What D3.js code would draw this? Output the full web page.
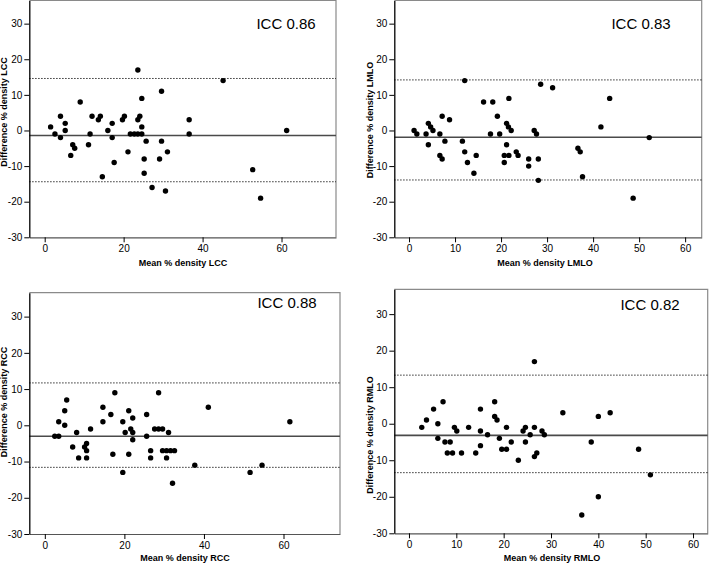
<!DOCTYPE html>
<html><head><meta charset="utf-8">
<script src="https://cdn.jsdelivr.net/npm/d3@7"></script>
<style>
body{margin:0;background:#fff;}
svg{display:block;}
.tick text{font-family:"Liberation Sans Narrow","Arial Narrow","Liberation Sans",Arial,sans-serif;font-size:10px;fill:#000;}
.atitle{font-family:"Liberation Sans",Arial,sans-serif;font-size:9px;font-weight:bold;fill:#000;}
.icc{font-family:"Liberation Sans",Arial,sans-serif;font-size:15px;fill:#000;}
</style></head>
<body><svg id="c" width="709" height="564"></svg>
<script>
// ---- data ----
const lccMean = [1.5,2.6,4,4,5.2,5.2,6.6,7.1,7.6,9,11.1,11.5,12,13.6,14.1,14.6,16,17.1,17.1,17.6,19.7,20.2,21.1,21.7,22.7,23.6,23.6,24.1,23.6,24.6,24.6,24.6,25.2,25.2,25.7,27.2,29.1,29.6,29.6,30.6,31.1,36.6,36.6,45.2,52.7,54.7,61.3];
const lccDiff = [1,-1,4,-2,2,0,-7,-4,-5,8,-4,-1,4,3,4,-13,0,2,-2,-9,3,4,-6,-1,-1,17,3,4,-1,1,9,-1,-8,-12,-3,-16,-8,11,-3,-17,-6,3,-1,14,-11,-19,0];
const lmloMean = [1.1,1.7,3.7,4.2,4.2,4.7,5.2,6.7,6.7,7.2,7.2,7.8,8.8,11.6,12.1,12.1,12.7,14.1,14.6,16.2,18.2,17.7,19.2,19.7,20.7,20.7,21.2,21.2,21.7,21.6,21.7,22.2,23.3,23.7,26,26,27.2,27.7,28.1,28.1,28.6,31.2,36.7,37.2,37.7,41.7,43.6,48.7,52.2];
const lmloDiff = [0,-1,-1,2,-4,1,0,-1,-7,4,-8,-3,3,-3,14,-6,-9,-12,-7,8,8,-1,4,-1,-9,-7,2,-4,9,1,-7,0,-6,-7,-8,-10,0,-1,-8,-14,13,12,-5,-6,-13,1,9,-19,-2];
const rccMean = [2.5,3.5,3.5,5,5,5.5,7,8,8.5,10,10.5,10.5,10.5,11.5,14.6,14.6,16.6,17.1,17.6,19.6,19.6,20.2,21.1,21.1,21.6,22.1,22.1,22.1,25.6,25.6,26.6,26.6,27.6,28.6,28.6,29.6,29.6,30.6,30.6,31.1,31.6,32.6,32.1,37.7,41.1,51.6,54.6,61.6];
const rccDiff = [-3,-3,1,0,4,7,-6,-2,-9,-6,-5,-7,-9,-1,5,1,3,-8,9,1,-13,-2,4,-8,-1,2,-2,-4,3,-3,-7,-9,-1,9,-1,-1,-7,-7,-9,-2,-7,-7,-16,-11,5,-13,-11,1];
const rmloMean = [2.7,3.7,5.2,6.1,6.1,7.2,7.6,8.1,8.7,9.2,9.6,10.1,11.1,12.6,14.1,15.1,15.1,15.1,16.6,18.1,18.1,18.6,19.1,19.6,20.6,20.6,21.6,23.1,24.1,24.6,24.6,25.6,26.5,26.5,26.5,27,28.1,28.6,32.5,38.5,36.5,40,40,42.5,48.5,51];
const rmloDiff = [-1,1,4,0,-4,6,-5,-8,-5,-8,-1,-2,-8,-1,-8,4,-2,-6,-3,6,2,1,-4,-7,-1,-7,-5,-10,-2,-1,-5,-3,17,-1,-9,-8,-2,-3,3,-5,-25,2,-20,3,-7,-14];
const panelNames = ["LCC","LMLO","RCC","RMLO"];
const iccValues = ["0.86","0.83","0.88","0.82"];
const meanDiffs = [-1.4,-1.9,-3.0,-3.2];
const upperLoa = [14.6,14.2,11.7,13.3];
const lowerLoa = [-14.4,-13.9,-11.6,-13.4];
const yTicks = [-30,-20,-10,0,10,20,30];
const xTicksA = [0,20,40,60];
const xTicksB = [0,10,20,30,40,50,60];

// ---- layout ----
const layouts = [
  {xd:[-3.9,73.8], xr:[29.3,336], yd:[-30,36.5], yr:[237.3,0.5], xt:xTicksA, iccX:286, iccY:29, xtX:183, xtY:266, ytX:6.5, ytY:112},
  {xd:[-3.2,63.6], xr:[394.3,701.7], yd:[-30,36.5], yr:[237.3,0.5], xt:xTicksB, iccX:641, iccY:29, xtX:545, xtY:266, ytX:372.5, ytY:120},
  {xd:[-3.9,74.2], xr:[29.3,340], yd:[-30,36.6], yr:[534,292.7], xt:xTicksA, iccX:287, iccY:308, xtX:185, xtY:561, ytX:6.5, ytY:402},
  {xd:[-3.1,63.1], xr:[394.3,707.7], yd:[-30,36.8], yr:[533.3,289.3], xt:xTicksB, iccX:650, iccY:310, xtX:552, xtY:561, ytX:372.5, ytY:435}
];
const data = [[lccMean,lccDiff],[lmloMean,lmloDiff],[rccMean,rccDiff],[rmloMean,rmloDiff]];

const svg = d3.select("#c");
layouts.forEach((L,i)=>{
  const x = d3.scaleLinear().domain(L.xd).range(L.xr);
  const y = d3.scaleLinear().domain(L.yd).range(L.yr);
  const g = svg.append("g");
  const x0=L.xr[0], x1=L.xr[1], y0=L.yr[1], y1=L.yr[0];
  // frame top/right
  g.append("path").attr("d",`M${x0},${y0}H${x1}V${y1}`).attr("fill","none").attr("stroke","#8a8a8a").attr("stroke-width",1.2);
  // reference lines
  g.append("line").attr("x1",x0).attr("x2",x1).attr("y1",y(meanDiffs[i])).attr("y2",y(meanDiffs[i]))
    .attr("stroke","#4a4a4a").attr("stroke-width",1.6);
  [upperLoa[i],lowerLoa[i]].forEach(v=>{
    g.append("line").attr("x1",x0).attr("x2",x1).attr("y1",y(v)).attr("y2",y(v))
      .attr("stroke","#000").attr("stroke-width",1).attr("stroke-dasharray","1.2,1.8");
  });
  // axes
  const ax = g.append("g").attr("transform",`translate(0,${y1})`)
    .call(d3.axisBottom(x).tickValues(L.xt).tickSize(5).tickSizeOuter(0).tickFormat(d3.format("d")));
  ax.select(".domain").attr("stroke","#555").attr("stroke-width",1.2);
  ax.selectAll(".tick line").attr("stroke","#000");
  const ay = g.append("g").attr("transform",`translate(${x0},0)`)
    .call(d3.axisLeft(y).tickValues(yTicks).tickSize(5).tickSizeOuter(0).tickFormat(d=>String(d).replace("−","-")));
  ay.select(".domain").attr("stroke","#000").attr("stroke-width",1.3);
  ay.selectAll(".tick line").attr("stroke","#000");
  ay.selectAll(".tick text").attr("x",-7);
  // points
  const [mx,dy] = data[i];
  g.selectAll("circle.p").data(mx.map((m,k)=>[m,dy[k]])).enter().append("circle")
    .attr("cx",d=>x(d[0])).attr("cy",d=>y(d[1])).attr("r",2.7).attr("fill","#000");
  // texts
  g.append("text").attr("class","icc").attr("x",L.iccX).attr("y",L.iccY).attr("text-anchor","middle").text("ICC "+iccValues[i]);
  g.append("text").attr("class","atitle").attr("x",L.xtX).attr("y",L.xtY).attr("text-anchor","middle").text("Mean % density "+panelNames[i]);
  g.append("text").attr("class","atitle").attr("transform",`translate(${L.ytX},${L.ytY}) rotate(-90)`).attr("text-anchor","middle").text("Difference % density "+panelNames[i]);
});
</script></body></html>
